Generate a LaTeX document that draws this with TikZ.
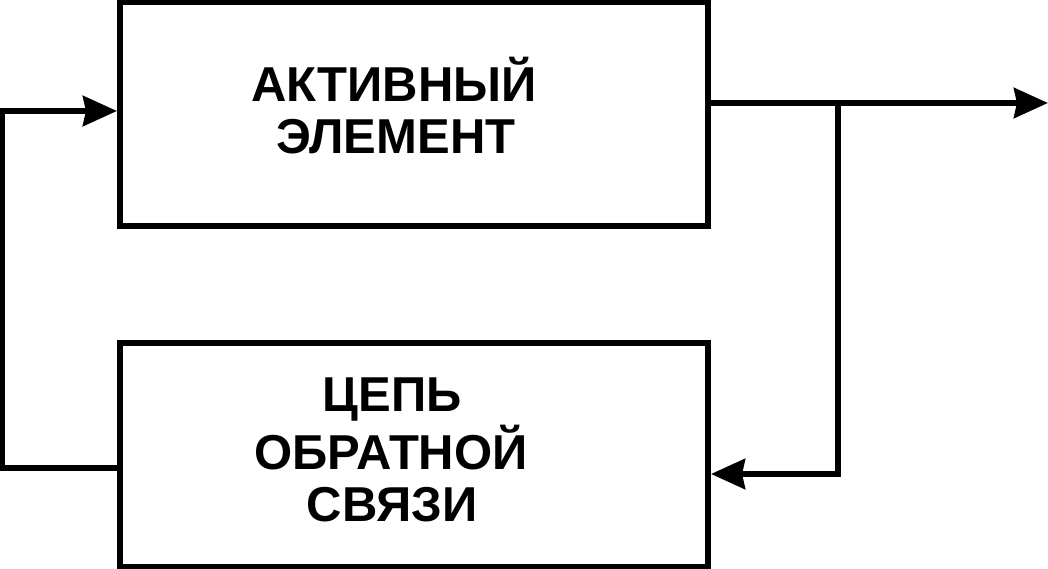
\documentclass[tikz,border=0pt]{standalone}
\usepackage{fontspec}
\setmainfont{Liberation Sans}
\usetikzlibrary{arrows.meta}
\begin{document}
\begin{tikzpicture}[x=1pt,y=1pt,
  blockbox/.style={draw,line width=6pt,minimum width=588pt,minimum height=224pt,inner sep=0pt},
  lbl/.style={anchor=base,inner sep=0pt,font=\fontsize{49}{52}\selectfont\bfseries},
  wire/.style={line width=6pt},
  arr/.style={wire,-{Stealth[length=34pt,width=30pt,inset=3pt]}}]
\useasboundingbox (0,0) rectangle (1048,569);
\node[blockbox] (top) at (414,455.25) {};
\node[blockbox] (bot) at (414,113.75) {};
\node[lbl] (t1) at (394,467) {АКТИВНЫЙ};
\node[lbl] (t2) at (396,415) {ЭЛЕМЕНТ};
\node[lbl] (b1) at (392,157) {ЦЕПЬ};
\node[lbl] (b2) at (391,99) {ОБРАТНОЙ};
\node[lbl] (b3) at (392,47) {СВЯЗИ};
\coordinate (out) at (1048,466);
\coordinate (tap) at (838,466);
\coordinate (tapdown) at (838,95);
\coordinate (lb) at (1.5,101);
\coordinate (lt) at (1.5,458);
\draw[arr] (top.east |- out) -- (out);
\draw[arr,line join=miter] (tap) -- (tapdown) -- (bot.east |- tapdown);
\draw[arr,line join=miter] (bot.west |- lb) -- (lb) -- (lt) -- (top.west |- lt);
\end{tikzpicture}
\end{document}
